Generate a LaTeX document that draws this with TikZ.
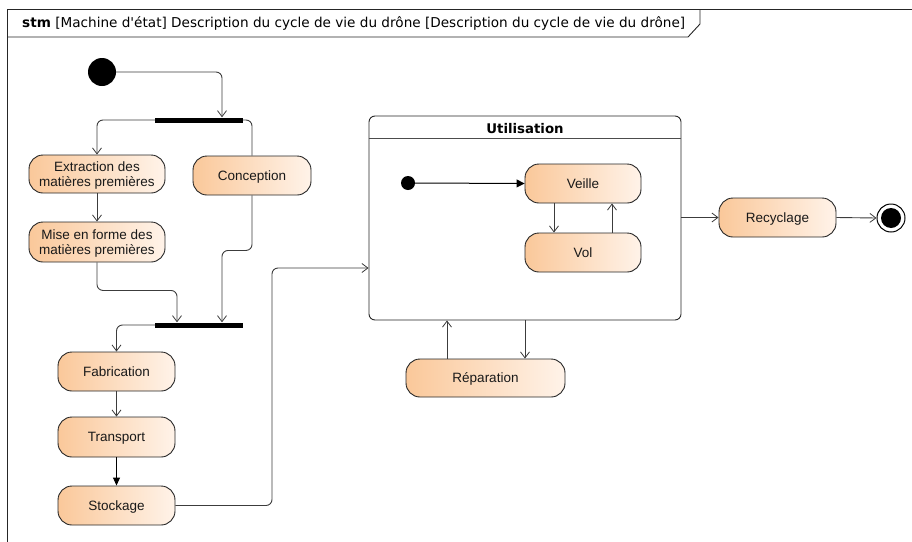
\documentclass[tikz,border=0pt]{standalone}
\usepackage{fontspec}
\setmainfont{Liberation Sans}
\newfontfamily\hdrfont{DejaVu Sans}
\usetikzlibrary{arrows.meta,calc}
\definecolor{stateL}{RGB}{250,200,154}
\definecolor{stateR}{RGB}{255,243,233}
\definecolor{edge}{RGB}{60,60,60}
\tikzset{
  statebox/.style={draw=black!85, line width=0.9pt, rounded corners=14pt,
    left color=stateL, right color=stateR, align=center, inner sep=2pt,
    text depth=0pt, font=\fontsize{13.5}{15.5}\selectfont, text=black!90},
  oneline/.style={statebox, text height=9.7pt},
  initstate/.style={circle, fill=black, inner sep=0pt},
  forkbar/.style={rectangle, fill=black, inner sep=0pt, minimum width=88pt, minimum height=5pt},
  flow/.style={draw=edge, line width=0.9pt, rounded corners=6pt,
    -{Straight Barb[length=6pt,width=9pt,line width=0.8pt]}},
  solidflow/.style={draw=black, line width=1pt, -{Triangle[length=8pt,width=7pt]}},
  plain/.style={draw=edge, line width=0.9pt, rounded corners=6pt},
}
\begin{document}
\begin{tikzpicture}[x=1pt,y=-1pt]
\useasboundingbox (0,0) rectangle (912,541);

% diagram frame with its name tab
\begin{scope}
  \clip (0,0) rectangle (912,541);
  \draw[black!85, line width=0.9pt] (7,560) -- (7,9) -- (930,9);
  \draw[black!85, line width=0.9pt] (7,37) -- (688,37) -- (700,24) -- (700,9);
\end{scope}
\node[anchor=base west, inner sep=0pt, font=\hdrfont\fontsize{13.6}{15}\selectfont] (title) at (22,27.5)
  {\textbf{stm} [Machine d'état] Description du cycle de vie du drône [Description du cycle de vie du drône]};

% production chain
\node[initstate, minimum size=28pt] (init) at (102,72) {};
\node[forkbar] (fork1) at (199,120) {};
\node[statebox, minimum width=136pt, minimum height=38pt] (ext) at (97,174) {Extraction des\\matières premières};
\node[oneline, minimum width=118pt, minimum height=39pt] (conc) at (252,175.5) {Conception};
\node[statebox, minimum width=136pt, minimum height=40pt] (mise) at (97,242) {Mise en forme des\\matières premières};
\node[forkbar] (fork2) at (199,325) {};
\node[oneline, minimum width=117pt, minimum height=39pt] (fab) at (116.5,371.5) {Fabrication};
\node[oneline, minimum width=117pt, minimum height=40pt] (trans) at (116.5,437) {Transport};
\node[oneline, minimum width=117pt, minimum height=39pt] (stock) at (116.5,505.5) {Stockage};

\draw[flow] (init.east) -| ([xshift=23pt]fork1.north);
\draw[flow] (fork1.west) -| (ext.north);
\draw[plain] (fork1.east) -| (conc.north);
\draw[flow] (ext.south) -- (mise.north);
\draw[flow] (mise.south) -- ++(0,28) -| ([xshift=-22pt]fork2.north);
\draw[flow] (conc.south) -- ++(0,55) -| ([xshift=23pt]fork2.north);
\draw[flow] (fork2.west) -| (fab.north);
\draw[flow] (fab.south) -- (trans.north);
\draw[solidflow] (trans.south) -- (stock.north);

% composite state Utilisation
\node[draw=black!85, line width=0.9pt, rounded corners=6pt, fill=white,
  minimum width=312pt, minimum height=204pt, inner sep=0pt] (util) at (525,218) {};
\draw[black!70, line width=0.9pt] (util.west |- 0,138) -- (util.east |- 0,138);
\node[font=\hdrfont\bfseries\fontsize{13.3}{15}\selectfont, anchor=base] (utitle) at (525,133) {Utilisation};

\node[initstate, minimum size=14pt] (uinit) at (408,183) {};
\node[oneline, minimum width=116pt, minimum height=39pt] (veille) at (583,183.5) {Veille};
\node[oneline, minimum width=116pt, minimum height=39pt] (vol) at (583,252.5) {Vol};
\draw[draw=black, line width=1pt, -{Triangle[length=8pt,width=8pt]}] (uinit.east) -- (veille.west);
\draw[flow] ([xshift=-29pt]veille.south) -- ([xshift=-29pt]vol.north);
\draw[flow] ([xshift=29pt]vol.north) -- ([xshift=29pt]veille.south);

\node[oneline, minimum width=159pt, minimum height=38pt] (rep) at (485.5,378) {Réparation};
\draw[flow] ([xshift=-38.5pt]rep.north) -- ([xshift=-38.5pt]rep.north |- util.south);
\draw[flow] (util.south) -- (util.south |- rep.north);

\coordinate (bend) at (272,268);
\draw[flow] (stock.east) -| (bend) -- (util.west |- bend);

% end of life
\node[oneline, minimum width=117pt, minimum height=39pt] (recy) at (777.5,217.5) {Recyclage};
\node[circle, draw=black, line width=1pt, fill=white, minimum size=28pt, inner sep=0pt] (final) at (891,218) {};
\fill[black] (final.center) circle (10pt);
\draw[flow] (util.east |- recy.west) -- (recy.west);
\draw[flow] (recy.east) -- (final.west);
\end{tikzpicture}
\end{document}
